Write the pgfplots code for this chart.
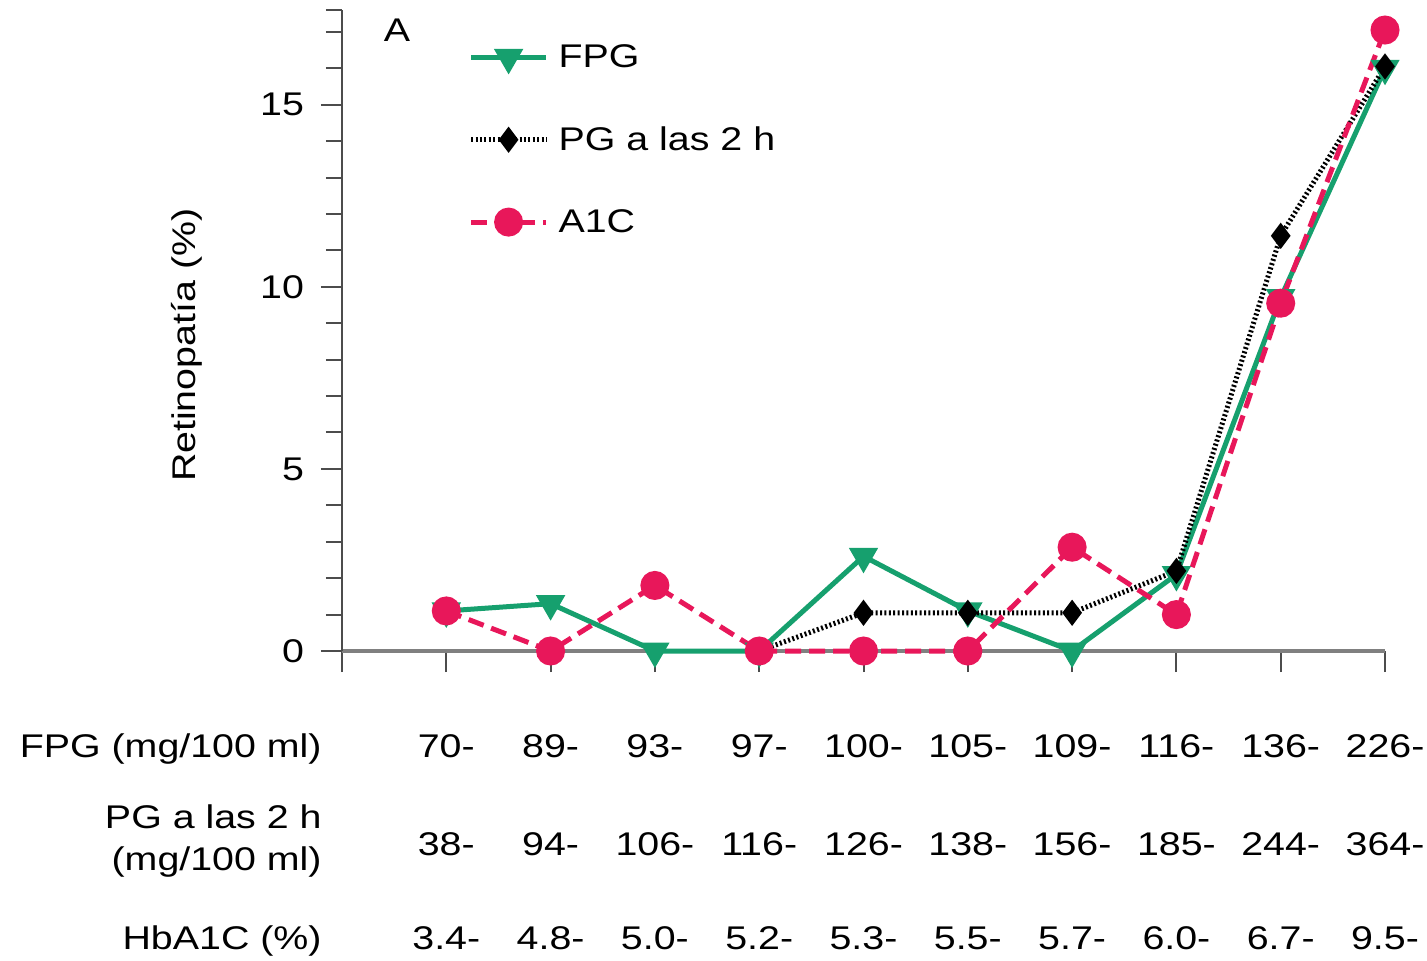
\documentclass[border=0pt]{standalone}
\usepackage{fontspec}
\setmainfont{Liberation Sans}[FakeStretch=1.2]
\usepackage{pgfplots}
\pgfplotsset{compat=1.18}
\definecolor{fpg}{HTML}{16A06E}
\definecolor{aic}{HTML}{E8175A}
\newcommand{\fs}{\fontsize{16.4}{19}\selectfont}
\tikzset{lab/.style={anchor=base, font=\fs, inner sep=0pt}}
\newcommand{\col}[4]{%
 \node[lab, yshift=-53pt] at (axis cs:#1,0) {#2};
 \node[lab, yshift=-102pt] at (axis cs:#1,0) {#3};
 \node[lab, yshift=-149pt] at (axis cs:#1,0) {#4};}
\begin{document}
\begin{tikzpicture}
\begin{axis}[
 at={(0,0)}, anchor=south west,
 scale only axis, width=521.5pt, height=320.5pt,
 xmin=0, xmax=10, ymin=0, ymax=17.6,
 clip=false,
 axis lines=left,
 axis line style={-},
 x axis line style={draw=black!50, line width=2pt},
 y axis line style={draw=black!70, line width=1pt},
 xtick={0,...,10}, xticklabels={},
 ytick={0,5,10,15},
 minor ytick={1,...,17,17.6},
 tick align=outside,
 major tick length=10.5pt, minor tick length=8pt,
 tick style={black!70, line width=1pt},
 every tick label/.append style={font=\fs},
 yticklabel style={xshift=-5pt},
 /pgf/number format/assume math mode=true,
 ylabel={Retinopatía (\%)},
 every axis y label/.style={at={(axis description cs:-0.1486,0.477)}, rotate=90, anchor=center, font=\fs},
 legend style={draw=none, fill=none, at={(axis description cs:0.121,0.95)}, anchor=north west, inner sep=0pt, row sep=26pt, column sep=4pt, font=\fs, nodes={inner sep=1pt}},
 legend cell align=left,
 legend image code/.code={\draw[mark repeat=2,mark phase=2] plot coordinates {(0pt,0pt)(18.75pt,0pt)(37.5pt,0pt)};},
]
\addplot[color=fpg, line width=2.5pt, mark=triangle*, mark size=6pt, mark options={rotate=180, solid}]
 coordinates {(1,1.1)(2,1.3)(3,0)(4,0)(5,2.6)(6,1.1)(7,0)(8,2.1)(9,9.7)(10,16.0)};
\addlegendentry{FPG}
\addplot[black, line width=2.5pt, dash pattern=on 1pt off 1.2pt, mark=diamond*, mark size=4.5pt, mark options={solid}]
 coordinates {(4,0)(5,1.05)(6,1.05)(7,1.05)(8,2.2)(9,11.4)(10,16.05)};
\addlegendentry{PG a las 2 h}
\addplot[color=aic, line width=2.5pt, dash pattern=on 8pt off 4pt, mark=*, mark size=6pt, mark options={solid}]
 coordinates {(1,1.1)(2,0)(3,1.8)(4,0)(5,0)(6,0)(7,2.85)(8,1.0)(9,9.55)(10,17.05)};
\addlegendentry{A1C}
\node[font=\fs, anchor=center] at (axis description cs:0.0527,0.969) {A};
\col{1}{70-}{38-}{3.4-}
\col{2}{89-}{94-}{4.8-}
\col{3}{93-}{106-}{5.0-}
\col{4}{97-}{116-}{5.2-}
\col{5}{100-}{126-}{5.3-}
\col{6}{105-}{138-}{5.5-}
\col{7}{109-}{156-}{5.7-}
\col{8}{116-}{185-}{6.0-}
\col{9}{136-}{244-}{6.7-}
\col{10}{226-}{364-}{9.5-}
\node[lab, anchor=base east, xshift=-10pt, yshift=-53pt] at (axis cs:0,0) {FPG (mg/100 ml)};
\node[lab, anchor=base east, xshift=-10pt, yshift=-88.5pt] at (axis cs:0,0) {PG a las 2 h};
\node[lab, anchor=base east, xshift=-10pt, yshift=-109.5pt] at (axis cs:0,0) {(mg/100 ml)};
\node[lab, anchor=base east, xshift=-10pt, yshift=-149pt] at (axis cs:0,0) {HbA1C (\%)};
\end{axis}
\pgfresetboundingbox
\path (-171pt,-154.5pt) rectangle (542.5pt,325.5pt);
\end{tikzpicture}
\end{document}
